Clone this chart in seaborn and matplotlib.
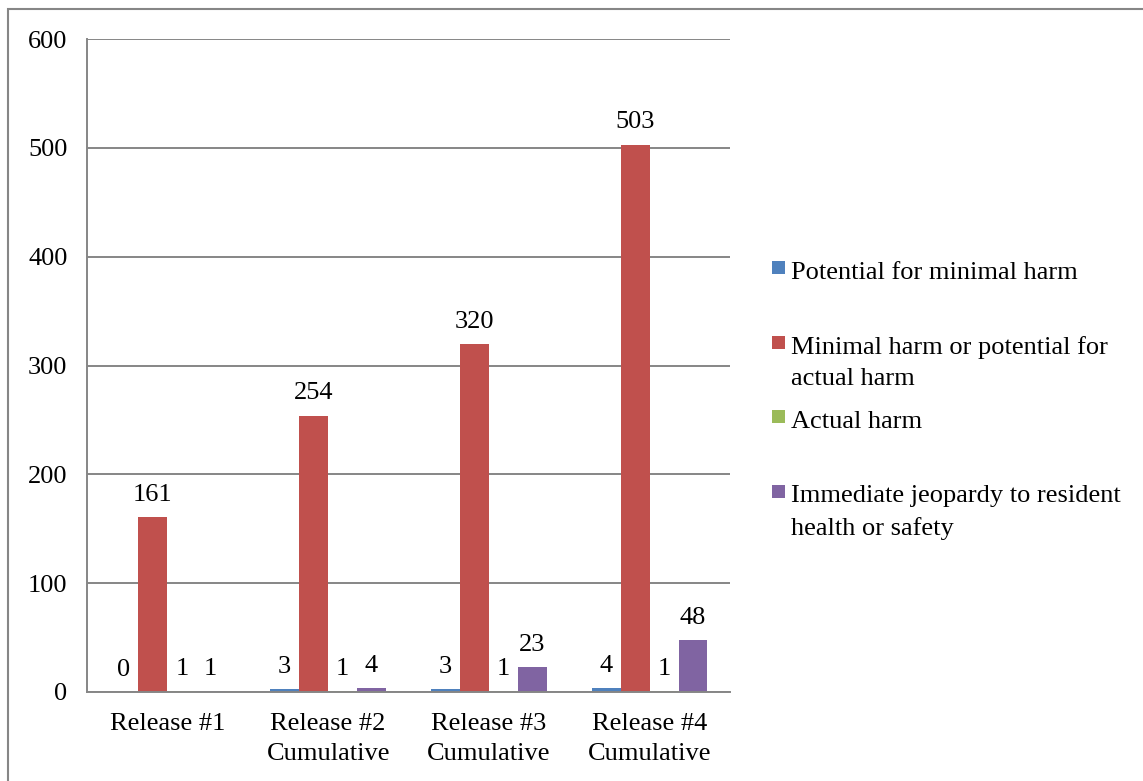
import matplotlib
matplotlib.use("Agg")
import matplotlib.pyplot as plt
import matplotlib.patches as mpatches
from matplotlib.legend_handler import HandlerPatch
import seaborn as sns
import pandas as pd

# ---- data ----
categories = ["Release #1", "Release #2\nCumulative", "Release #3\nCumulative", "Release #4\nCumulative"]
series = ["Potential for minimal harm",
          "Minimal harm or potential for actual harm",
          "Actual harm",
          "Immediate jeopardy to resident health or safety"]
legend_labels = ["Potential for minimal harm\n",
                 "Minimal harm or potential for\nactual harm",
                 "Actual harm\n",
                 "Immediate jeopardy to resident\nhealth or safety"]
potential_minimal = [0, 3, 3, 4]
minimal_or_potential_actual = [161, 254, 320, 503]
actual_harm = [1, 1, 1, 1]
immediate_jeopardy = [1, 4, 23, 48]
colors = ["#4F81BD", "#C0504D", "#9BBB59", "#8064A2"]
y_ticks = [0, 100, 200, 300, 400, 500, 600]

values = [potential_minimal, minimal_or_potential_actual, actual_harm, immediate_jeopardy]
rows = []
for s, vals in zip(series, values):
    for c, v in zip(categories, vals):
        rows.append({"release": c, "severity": s, "count": v})
df = pd.DataFrame(rows)

sns.set_style("white")
plt.rcParams["font.family"] = ["Liberation Serif", "DejaVu Serif"]
plt.rcParams["text.color"] = "black"
plt.rcParams["xtick.labelcolor"] = "black"
plt.rcParams["ytick.labelcolor"] = "black"
FS = 19
GREY = "#868686"

fig = plt.figure(figsize=(11.43, 7.81), dpi=100)
ax = fig.add_axes([87 / 1143, 89 / 781, (730 - 87) / 1143, (692 - 39) / 781])

sns.barplot(data=df, x="release", y="count", hue="severity", order=categories,
            hue_order=series, palette=colors, saturation=1, width=0.72, gap=0,
            linewidth=0, legend=False, ax=ax)

for cont in ax.containers:
    ax.bar_label(cont, padding=8, fontsize=FS, color="black")

ax.set_ylim(0, 600)
ax.set_xlim(-0.5, 3.5)
ax.set_yticks(y_ticks)
ax.set_yticklabels([str(t) for t in y_ticks], fontsize=FS)
ax.set_xticks(range(len(categories)))
ax.set_xticklabels(categories, fontsize=FS, linespacing=1.46)
ax.set_xticks([-0.5, 0.5, 1.5, 2.5, 3.5], minor=True)
ax.tick_params(axis="x", which="major", length=0, pad=15, labelcolor="black")
ax.tick_params(axis="x", which="minor", length=7, width=1.4, color=GREY, direction="out")
ax.tick_params(axis="y", which="major", length=7, width=1.4, color=GREY, direction="out",
               pad=7, labelcolor="black")
ax.set_xlabel("")
ax.set_ylabel("")
ax.yaxis.grid(True, color=GREY, linewidth=1.4)
ax.set_axisbelow(True)
for side in ["top", "right"]:
    ax.spines[side].set_visible(False)
for side in ["left", "bottom"]:
    ax.spines[side].set_color(GREY)
    ax.spines[side].set_linewidth(1.4)


def square(legend, orig_handle, xdescent, ydescent, width, height, fontsize):
    s = 0.49 * fontsize
    return mpatches.Rectangle((-xdescent + width - s, -ydescent + height / 2 - s / 2 + 0.76 * fontsize), s, s)


handles = [mpatches.Patch(facecolor=c, edgecolor="none") for c in colors]
leg = fig.legend(handles, legend_labels, loc="upper left",
                 bbox_to_anchor=(770 / 1143, 1 - 262 / 781), frameon=False,
                 fontsize=FS, handlelength=0.57, handletextpad=0.22,
                 labelspacing=0.8, borderpad=0, borderaxespad=0, labelcolor="black",
                 handler_map={mpatches.Patch: HandlerPatch(patch_func=square)})
for t in leg.get_texts():
    t.set_linespacing(1.53)

fig.add_artist(mpatches.Rectangle((8 / 1143, -0.1), 1.2, 1.1 - 9 / 781,
                                  transform=fig.transFigure, fill=False,
                                  edgecolor=GREY, linewidth=1.5))

fig.savefig("out.png", dpi=100)
